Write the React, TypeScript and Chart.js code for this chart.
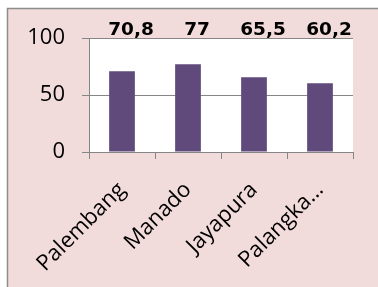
import React, { useEffect, useRef } from "react";
import { Chart, registerables } from "chart.js";

Chart.register(...registerables);

const categories = ["Palembang", "Manado", "Jayapura", "Palangka…"];
const values = [70.8, 77, 65.5, 60.2];
const valueLabels = ["70,8", "77", "65,5", "60,2"];
const yMin = 0;
const yMax = 100;
const yStep = 50;

const BAR_COLOR = "#604A7B";
const PANEL_COLOR = "#F2DCDB";
const LINE_COLOR = "#868686";

const backgroundPlugin = {
  id: "panelBackground",
  beforeDraw(chart: any) {
    const { ctx, width, height, chartArea } = chart;
    ctx.save();
    ctx.fillStyle = "#ffffff";
    ctx.fillRect(0, 0, width, height);
    ctx.fillStyle = PANEL_COLOR;
    ctx.fillRect(7, 8, width - 7, height - 8);
    ctx.strokeStyle = "#8c8c8c";
    ctx.lineWidth = 1.5;
    ctx.beginPath();
    ctx.moveTo(7.5, height + 2);
    ctx.lineTo(7.5, 8.5);
    ctx.lineTo(width + 2, 8.5);
    ctx.stroke();
    ctx.fillStyle = "#ffffff";
    ctx.fillRect(chartArea.left, chartArea.top, chartArea.right - chartArea.left, chartArea.bottom - chartArea.top);
    ctx.restore();
  },
};

const valueLabelPlugin = {
  id: "valueLabels",
  afterDatasetsDraw(chart: any) {
    const { ctx, chartArea } = chart;
    const meta = chart.getDatasetMeta(0);
    ctx.save();
    ctx.fillStyle = "#000000";
    ctx.font = "bold 18.5px 'DejaVu Sans'";
    ctx.textAlign = "center";
    ctx.textBaseline = "alphabetic";
    meta.data.forEach((bar: any, i: number) => {
      ctx.fillText(valueLabels[i], bar.x + 9, chartArea.top - 3);
    });
    ctx.restore();
  },
};

export default function App() {
  const canvasRef = useRef<HTMLCanvasElement | null>(null);

  useEffect(() => {
    if (!canvasRef.current) return;
    const chart = new Chart(canvasRef.current, {
      type: "bar",
      data: {
        labels: categories,
        datasets: [
          {
            data: values,
            backgroundColor: BAR_COLOR,
            borderWidth: 0,
            categoryPercentage: 1,
            barPercentage: 0.39,
          },
        ],
      },
      options: {
        responsive: false,
        animation: false,
        devicePixelRatio: 1,
        layout: { padding: { top: 38, left: 0, right: 25, bottom: 0 } },
        plugins: {
          legend: { display: false },
          tooltip: { enabled: false },
        },
        scales: {
          x: {
            afterFit(scale: any) {
              scale.height = 135;
            },
            grid: {
              drawOnChartArea: false,
              drawTicks: true,
              tickLength: 7,
              color: LINE_COLOR,
              offset: true,
            },
            border: { color: LINE_COLOR, width: 1 },
            ticks: {
              autoSkip: false,
              maxRotation: 45,
              minRotation: 45,
              padding: 18,
              color: "#000000",
              font: { family: "'Open Sans'", size: 22 },
            },
          },
          y: {
            min: yMin,
            max: yMax,
            afterFit(scale: any) {
              scale.width = 89;
            },
            grid: {
              color: LINE_COLOR,
              tickLength: 7,
              lineWidth: 1,
            },
            border: { color: LINE_COLOR, width: 1 },
            ticks: {
              stepSize: yStep,
              padding: 17,
              color: "#000000",
              font: { family: "'Open Sans'", size: 22 },
            },
          },
        },
      },
      plugins: [backgroundPlugin, valueLabelPlugin],
    });
    return () => chart.destroy();
  }, []);

  return (
    <div style={{ position: "fixed", left: 0, top: 0, width: 378, height: 287 }}>
      <canvas ref={canvasRef} width={378} height={287} style={{ display: "block" }} />
    </div>
  );
}
